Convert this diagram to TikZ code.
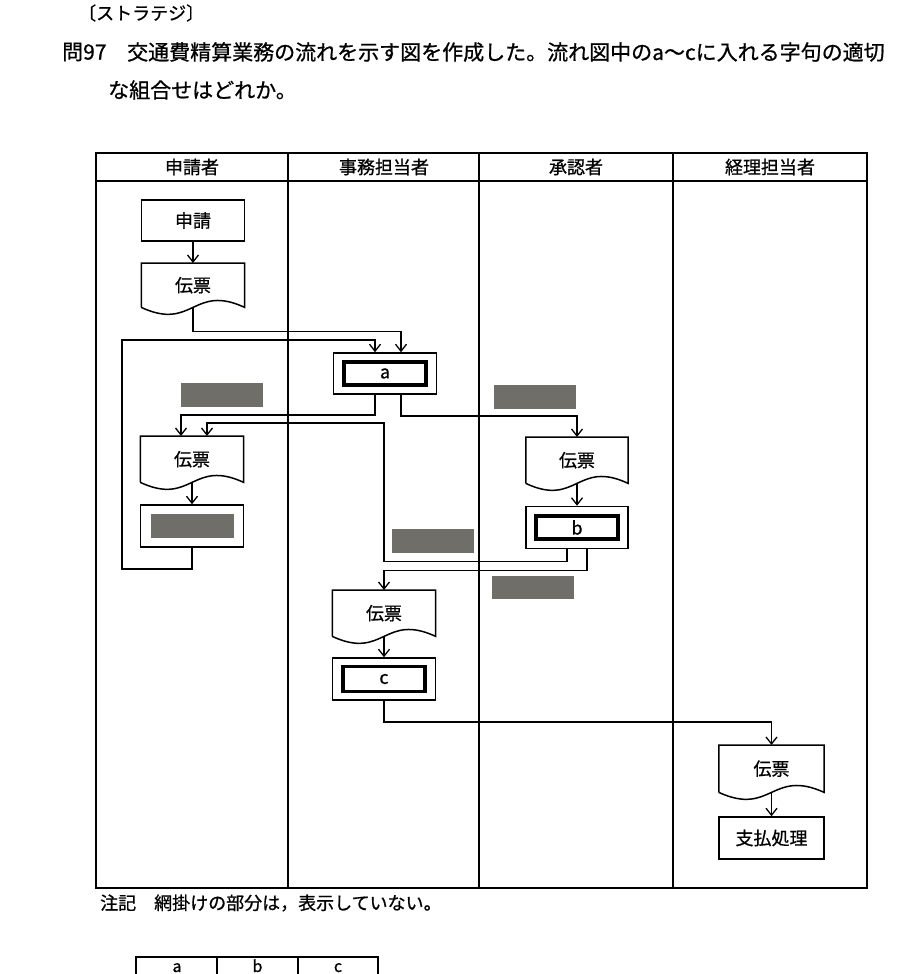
\documentclass[tikz,border=0pt]{standalone}
\usepackage{fontspec}
\setmainfont{Noto Sans CJK JP}[FakeBold=0.8]
\usetikzlibrary{arrows.meta,calc}
\definecolor{hidegray}{RGB}{112,110,104}
\newcommand\fsz[1]{\fontsize{#1}{#1}\selectfont}
\newcommand\drawdoc[1]{%
  \draw[ln,line join=miter] (#1.south west) -- (#1.north west) -- (#1.north east) -- (#1.south east)
    .. controls ($(#1.south)+(0,-24)$) and ($(#1.south)+(0,24)$) .. (#1.south west);}
\begin{document}
\begin{tikzpicture}[x=1pt,y=-1pt]
\tikzset{
  ln/.style={line width=1.5pt},
  tbl/.style={line width=1.8pt},
  arr/.style={ln,-{Straight Barb[length=7pt,width=11pt,line width=1.3pt]}},
  proc/.style={draw,line width=1.5pt,minimum width=103pt,minimum height=41pt,inner sep=0pt,font=\fsz{18}},
  inbox/.style={draw,line width=3.3pt,minimum width=82pt,minimum height=23pt,inner sep=0pt,font=\fsz{18}},
  docu/.style={minimum width=103pt,minimum height=46pt,inner sep=0pt,anchor=north,font=\fsz{18}},
  hidden/.style={fill=hidegray,inner sep=0pt,minimum width=82pt,minimum height=24pt},
  head/.style={inner sep=0pt,font=\fsz{18}},
  txt/.style={inner sep=0pt,anchor=west},
}
\useasboundingbox (0,0) rectangle (900,974);
\clip (0,0) rectangle (900,974);

% question text
\node[txt,font=\fsz{18}] (cat) at (78,13) {〔ストラテジ〕};
\node[txt,font=\fsz{21}] (qno) at (62,52) {問97};
\node[txt,font=\fsz{21}] (q1) at (127,52) {交通費精算業務の流れを示す図を作成した。流れ図中のa〜cに入れる字句の適切};
\node[txt,font=\fsz{21}] (q2) at (108,90) {な組合せはどれか。};

% swimlane table
\draw[tbl] (96,153) rectangle (867,888);
\draw[tbl] (96,181) -- (867,181);
\draw[tbl] (288,153) -- (288,888);
\draw[tbl] (479,153) -- (479,888);
\draw[tbl] (673,153) -- (673,888);
\node[head] (h1) at (192,167) {申請者};
\node[head] (h2) at (384,167) {事務担当者};
\node[head] (h3) at (576,167) {承認者};
\node[head] (h4) at (770,167) {経理担当者};

% nodes
\node[proc] (sh) at (193,220.5) {申請};
\node[docu,minimum height=44pt] (d1) at (193,263) {伝票};
\drawdoc{d1}
\node[proc] (a) at (385,373.5) {};
\node[inbox] (ai) at (a) {a};
\node[hidden] (g1) at (221.5,395) {};
\node[hidden] (g4) at (534.5,397) {};
\node[docu] (d2) at (192,436) {伝票};
\drawdoc{d2}
\node[proc,minimum height=42pt] (hp) at (192,526) {};
\node[hidden,minimum width=83pt] (g2) at (hp) {};
\node[docu,minimum width=102pt] (d3) at (577,437) {伝票};
\drawdoc{d3}
\node[proc,minimum width=102pt,minimum height=42pt] (b) at (577,527.5) {};
\node[inbox] (bi) at (b) {b};
\node[hidden] (g3) at (432.5,541) {};
\node[hidden,minimum height=23pt] (g5) at (532.5,587) {};
\node[docu] (d4) at (384,590) {伝票};
\drawdoc{d4}
\node[proc,minimum height=42pt] (c) at (384,679) {};
\node[inbox,minimum height=25pt] (ci) at (c) {c};
\node[docu,minimum width=105pt,minimum height=47pt] (d5) at (771.5,745) {伝票};
\drawdoc{d5}
\node[proc,minimum width=105pt,minimum height=42pt] (pay) at (771.5,838) {支払処理};

% connectors
\draw[arr] (sh.south) -- (d1.north);
\draw[arr] (d1.south) |- ($(a.north)+(16,-21)$) -- ($(a.north)+(16,0)$);
\draw[arr] (hp.south) -- ++(0,21) -| (122,340) -| ($(a.north)+(-10,0)$);
\draw[arr] ($(a.south)+(-10,0)$) -- ++(0,20) -| ($(d2.north)+(-11,0)$);
\draw[arr] ($(a.south)+(16,0)$) -- ++(0,21) -| (d3.north);
\draw[arr] (d2.south) -- (hp.north);
\draw[arr] (d3.south) -- (b.north);
\draw[arr] ($(b.south)+(-10,0)$) -- ++(0,12) -| (384,423) -| ($(d2.north)+(15,0)$);
\draw[arr] ($(b.south)+(10,0)$) -- ++(0,21) -| (d4.north);
\draw[arr] (d4.south) -- (c.north);
\draw[arr] (c.south) -- ++(0,21) -| (d5.north);
\draw[arr] (d5.south) -- (pay.north);

% note
\node[txt,font=\fsz{18}] (note) at (100,903) {注記\hspace{1em}網掛けの部分は，表示していない。};

% answer table (cut off by the page edge)
\draw[tbl] (136,990) -- (136,957) -- (378,957) -- (378,990);
\draw[tbl] (217,957) -- (217,990);
\draw[tbl] (298,957) -- (298,990);
\node[inner sep=0pt,anchor=base,font=\fsz{16}] (la) at (177,972) {a};
\node[inner sep=0pt,anchor=base,font=\fsz{16}] (lb) at (257.5,972) {b};
\node[inner sep=0pt,anchor=base,font=\fsz{16}] (lc) at (338,972) {c};
\end{tikzpicture}
\end{document}
